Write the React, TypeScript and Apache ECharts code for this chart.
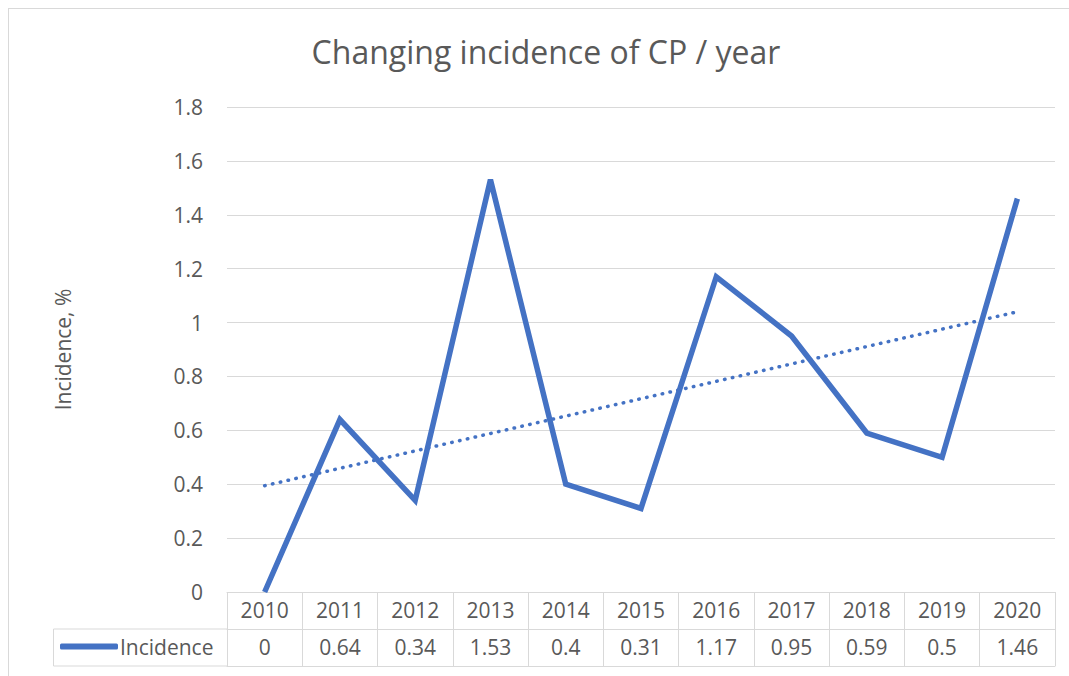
import React, { useEffect, useRef } from "react";
import * as echarts from "echarts";

const years = ["2010", "2011", "2012", "2013", "2014", "2015", "2016", "2017", "2018", "2019", "2020"];
const incidence = [0, 0.64, 0.34, 1.53, 0.4, 0.31, 1.17, 0.95, 0.59, 0.5, 1.46];
const yTicks = { min: 0, max: 1.8, interval: 0.2 };

const FONT = "'Open Sans', sans-serif";
const TEXT = "#595959";
const GRID = "#d9d9d9";
const BLUE = "#4472C4";

function linearTrend(vals: number[]): number[] {
  const n = vals.length;
  let sx = 0, sy = 0, sxy = 0, sxx = 0;
  vals.forEach((v, i) => { sx += i; sy += v; sxy += i * v; sxx += i * i; });
  const slope = (n * sxy - sx * sy) / (n * sxx - sx * sx);
  const icpt = (sy - slope * sx) / n;
  return vals.map((_, i) => +(icpt + slope * i).toFixed(4));
}

export default function App() {
  const ref = useRef<HTMLDivElement>(null);
  useEffect(() => {
    if (!ref.current) return;
    document.documentElement.style.overflow = "hidden";
    document.body.style.overflow = "hidden";
    const chart = echarts.init(ref.current, undefined, { renderer: "svg" });
    const trend = linearTrend(incidence);
    chart.setOption({
      animation: false,
      textStyle: { fontFamily: FONT },
      title: {
        text: "Changing incidence of CP / year",
        left: 533,
        top: 22,
        textAlign: "center",
        textStyle: { fontFamily: FONT, fontSize: 32, fontWeight: "normal", color: TEXT },
      },
      legend: {
        data: [{ name: "Incidence", icon: "roundRect" }],
        left: 52,
        top: 628,
        itemWidth: 58,
        itemHeight: 6,
        itemGap: 0,
        padding: 0,
        textStyle: { fontFamily: FONT, fontSize: 21, color: TEXT, padding: [0, 0, 0, -3] },
      },
      grid: { left: 219, right: 14, top: 99, bottom: 84, containLabel: false },
      xAxis: [
        {
          type: "category",
          data: years,
          boundaryGap: true,
          axisLine: { show: true, lineStyle: { color: GRID, width: 1 } },
          axisTick: { show: true, interval: 0, length: 74, lineStyle: { color: GRID, width: 1 } },
          axisLabel: { interval: 0, margin: 7, fontSize: 21, color: TEXT, fontFamily: FONT },
          splitLine: { show: false },
        },
        {
          type: "category",
          data: years,
          position: "bottom",
          offset: 37,
          boundaryGap: true,
          axisLine: { show: true, lineStyle: { color: GRID, width: 1 } },
          axisTick: { show: false },
          axisLabel: {
            interval: 0,
            margin: 7,
            fontSize: 21,
            color: TEXT,
            fontFamily: FONT,
            formatter: (_v: string, i: number) => String(incidence[i]),
          },
        },
        {
          type: "category",
          data: years,
          position: "bottom",
          offset: 74,
          boundaryGap: true,
          axisLine: { show: true, lineStyle: { color: GRID, width: 1 } },
          axisTick: { show: false },
          axisLabel: { show: false },
        },
      ],
      yAxis: {
        type: "value",
        min: yTicks.min,
        max: yTicks.max,
        interval: yTicks.interval,
        name: "Incidence, %",
        nameLocation: "middle",
        nameRotate: 90,
        nameGap: 154,
        nameTextStyle: { fontFamily: FONT, fontSize: 21, color: TEXT },
        axisLine: { show: false },
        axisTick: { show: false },
        axisLabel: { margin: 24, fontSize: 21, color: TEXT, fontFamily: FONT },
        splitLine: { show: true, lineStyle: { color: GRID, width: 1 } },
      },
      graphic: [
        {
          type: "rect",
          shape: { x: 45.5, y: 621, width: 174, height: 37 },
          style: { fill: "none", stroke: GRID, lineWidth: 1 },
          silent: true,
        },
      ],
      series: [
        {
          name: "Incidence",
          type: "line",
          data: incidence,
          symbol: "none",
          lineStyle: { color: BLUE, width: 5.5, join: "miter" },
          itemStyle: { color: BLUE },
          z: 3,
        },
        {
          name: "Trend",
          type: "line",
          data: trend,
          symbol: "none",
          lineStyle: { color: BLUE, width: 3.5, type: [0.5, 7.5], cap: "round" },
          itemStyle: { color: BLUE },
          z: 2,
        },
      ],
    });
    return () => chart.dispose();
  }, []);
  return (
    <div style={{ position: "absolute", left: 8, top: 8, width: 1200, height: 800, borderLeft: "1.5px solid #d9d9d9", borderTop: "1.5px solid #d9d9d9", boxSizing: "border-box" }}>
      <div ref={ref} style={{ position: "absolute", left: -1.5, top: -1.5, width: 1061, height: 668 }} />
    </div>
  );
}
